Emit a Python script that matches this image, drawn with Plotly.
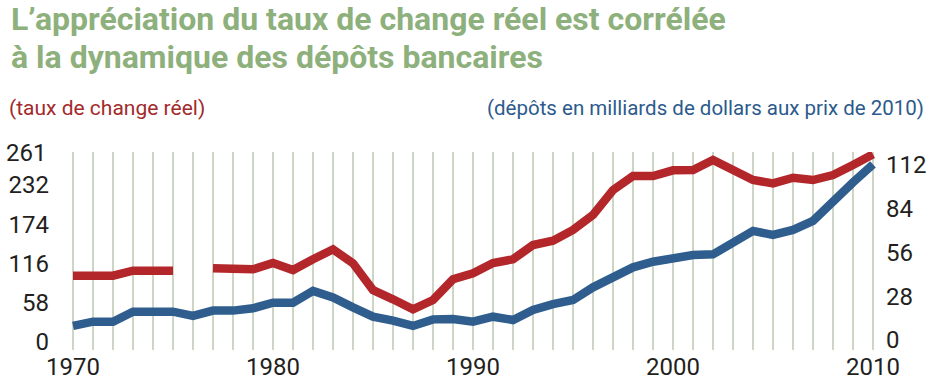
import plotly.graph_objects as go

years = list(range(1970, 2011))
taux_change_reel = [98.0, 98.0, 98.0, 105.4, 105.4, 105.4, None, 108.9, 108.9, 107.4,
                    116.7, 106.4, 122.2, 137.0, 116.3, 76.8, 63.1, 48.3, 62.1, 92.7,
                    101.5, 116.7, 122.2, 143.3, 149.7, 165.5, 187.7, 224.6, 245.3, 245.3,
                    253.7, 254.2, 268.9, 254.2, 239.4, 234.5, 242.8, 239.4, 246.8, 261.6,
                    277.4]
depots = [9.0, 11.7, 11.7, 18.1, 18.1, 18.1, 15.4, 18.8, 18.8, 20.3,
          23.9, 23.9, 31.4, 27.3, 20.9, 14.9, 12.4, 9.0, 13.2, 13.4,
          11.7, 14.9, 12.8, 19.2, 23.0, 25.6, 33.7, 40.1, 46.5, 50.1,
          52.5, 54.4, 54.8, 62.9, 69.8, 67.2, 70.4, 76.2, 89.0, 100.9,
          112.4]
left_ticks = [0, 58, 116, 174, 232]
left_top_tick = 261
right_ticks = [0, 28, 56, 84, 112]
x_ticks = [1970, 1980, 1990, 2000, 2010]

title_l1 = "L’appréciation du taux de change réel est corrélée"
title_l2 = "à la dynamique des dépôts bancaires"
left_label = "(taux de change réel)"
right_label = "(dépôts en milliards de dollars aux prix de 2010)"

RED = "#b3262a"
BLUE = "#2f5e8e"
GREEN = "#8db07c"
GRID = "#cdd6c4"
INK = "#231f20"
FONT = "Roboto, Liberation Sans, sans-serif"
TICK_SIZE = 24

fig = go.Figure()
fig.add_trace(go.Scatter(x=years, y=taux_change_reel, mode="lines",
                         line=dict(color=RED, width=8.5), connectgaps=False,
                         yaxis="y", showlegend=False))
fig.add_trace(go.Scatter(x=years, y=depots, mode="lines",
                         line=dict(color=BLUE, width=8.5),
                         yaxis="y2", showlegend=False))

L, R, T, B = 63, 48, 152, 31
W, H = 931, 381
pw = W - L - R
ph = H - T - B

def px(xp):
    return (xp - L) / pw

def py(yp):
    return (H - B - yp) / ph

fig.update_layout(
    width=W, height=H,
    margin=dict(l=L, r=R, t=T, b=B, autoexpand=False),
    paper_bgcolor="white", plot_bgcolor="white",
    font=dict(family=FONT, color=INK),
    xaxis=dict(range=[1969.5, 2010.5], tickvals=x_ticks, showgrid=True,
               gridcolor=GRID, gridwidth=2, zeroline=False, showline=False,
               tickfont=dict(size=TICK_SIZE, color=INK), ticks="", ticklabelstandoff=0,
               automargin=False,
               minor=dict(dtick=1, tick0=1970, showgrid=True, gridcolor=GRID, gridwidth=2)),
    yaxis=dict(range=[-11.8, 280.8], tickvals=left_ticks, showgrid=False,
               zeroline=False, showline=False, ticks="", automargin=False,
               tickfont=dict(size=TICK_SIZE, color=INK), ticklabelstandoff=13),
    yaxis2=dict(range=[-6.4, 120.3], tickvals=right_ticks, overlaying="y",
                side="right", showgrid=False, zeroline=False, showline=False,
                ticks="", automargin=False,
                tickfont=dict(size=TICK_SIZE, color=INK), ticklabelstandoff=2),
)

annotations = [
    dict(text="<b>" + title_l1 + "</b>", x=px(9), y=py(19), xanchor="left", yanchor="middle",
         xref="paper", yref="paper", font=dict(size=32, color=GREEN, family=FONT)),
    dict(text="<b>" + title_l2 + "</b>", x=px(9), y=py(57), xanchor="left", yanchor="middle",
         xref="paper", yref="paper", font=dict(size=32, color=GREEN, family=FONT)),
    dict(text=left_label, x=px(7), y=py(108), xanchor="left", yanchor="middle",
         xref="paper", yref="paper", font=dict(size=21, color="#a32a2c", family=FONT)),
    dict(text=right_label, x=px(926), y=py(108), xanchor="right", yanchor="middle",
         xref="paper", yref="paper", font=dict(size=20.5, color="#2c5a8c", family=FONT)),
    # top label of the left axis, nudged up as in the original
    dict(text=str(left_top_tick), x=0, y=left_top_tick, xref="paper", yref="y",
         xanchor="right", yanchor="middle", xshift=-15, yshift=12,
         font=dict(size=TICK_SIZE, color=INK, family=FONT)),
]
for a in annotations:
    a.update(showarrow=False)
fig.update_layout(annotations=annotations)

fig.write_html("out.html", config={"displayModeBar": False},
               post_script="document.body.style.margin='0';document.body.style.overflow='hidden';")
